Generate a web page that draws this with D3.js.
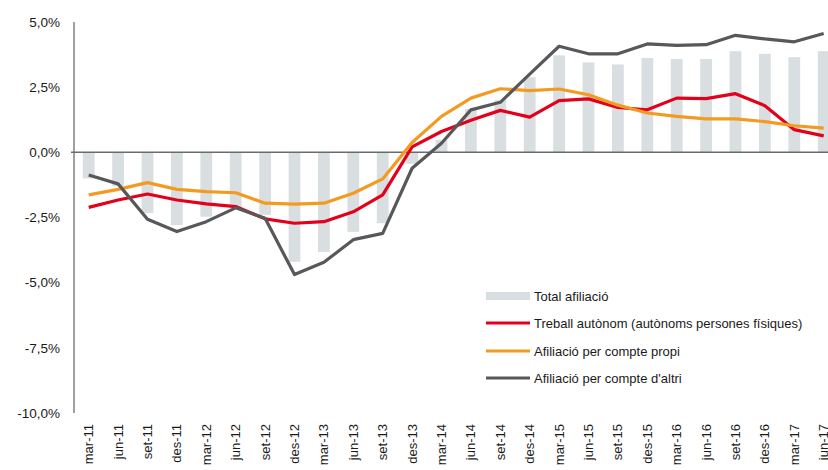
<!DOCTYPE html>
<html lang="en">
	<head>
		<meta charset="utf-8">
		<title>Afiliació</title>
		<script type="text/javascript" src="https://cdn.jsdelivr.net/npm/d3@7"></script>
		<style type="text/css">
body {
  margin: 0;
  background: #fff;
}
.tick_label {
  font-family: "Liberation Sans", Arial, sans-serif;
  font-size: 13px;
  fill: #1a1a1a;
}
.y_label {
  font-size: 13.5px;
}
.legend_labels {
  font-family: "Liberation Sans", Arial, sans-serif;
  font-size: 13px;
  fill: #1a1a1a;
}
		</style>
	</head>
	<body>
		<script type="text/javascript">

			var quarters = ["mar-11","jun-11","set-11","des-11","mar-12","jun-12","set-12","des-12",
				"mar-13","jun-13","set-13","des-13","mar-14","jun-14","set-14","des-14",
				"mar-15","jun-15","set-15","des-15","mar-16","jun-16","set-16","des-16",
				"mar-17","jun-17"];

			var total_afiliacio = [-1.0, -1.3, -2.33, -2.79, -2.47, -2.1, -2.4, -4.2,
				-3.82, -3.05, -2.72, -0.44, 0.48, 1.66, 2.0, 2.88,
				3.72, 3.45, 3.37, 3.62, 3.58, 3.58, 3.88, 3.78,
				3.65, 3.88];

			var treball_autonom = [-2.11, -1.83, -1.6, -1.83, -1.98, -2.08, -2.55, -2.72,
				-2.66, -2.28, -1.63, 0.21, 0.8, 1.23, 1.61, 1.35,
				1.98, 2.05, 1.72, 1.63, 2.08, 2.06, 2.25, 1.79,
				0.87, 0.63];

			var compte_propi = [-1.63, -1.42, -1.16, -1.42, -1.51, -1.55, -1.95, -1.99,
				-1.95, -1.57, -1.02, 0.38, 1.38, 2.08, 2.44, 2.37,
				2.43, 2.21, 1.81, 1.51, 1.38, 1.28, 1.28, 1.18,
				1.02, 0.93];

			var compte_altri = [-0.87, -1.21, -2.57, -3.04, -2.66, -2.13, -2.53, -4.69,
				-4.22, -3.35, -3.11, -0.61, 0.35, 1.63, 1.92, 3.0,
				4.07, 3.78, 3.78, 4.16, 4.1, 4.13, 4.49, 4.35,
				4.24, 4.56];

			var y_ticks = [5, 2.5, 0, -2.5, -5, -7.5, -10];

			var legend_keys = ["Total afiliació", "Treball autònom (autònoms persones físiques)",
				"Afiliació per compte propi", "Afiliació per compte d'altri"];

			var W = 828, H = 470;
			var colors = {bar: "#d9dee0", red: "#e3001b", orange: "#f39b20", grey: "#58585a"};

			var svg = d3.select("body")
				.append("svg")
					.attr("width", W)
					.attr("height", H);

			var xScale = d3.scaleBand()
				.domain(quarters)
				.range([74, 74 + 29.4 * quarters.length])
				.paddingInner(0.6)
				.paddingOuter(0.3);

			var yScale = d3.scaleLinear()
				.domain([-10, 5])
				.range([413, 22]);

			var cx = function(q) { return xScale(q) + xScale.bandwidth() / 2; };

			// bars
			svg.selectAll(".bar")
				.data(total_afiliacio)
				.enter()
				.append("rect")
					.attr("class", "bar")
					.attr("x", function(d, i) { return xScale(quarters[i]); })
					.attr("y", function(d) { return yScale(Math.max(0, d)); })
					.attr("width", xScale.bandwidth())
					.attr("height", function(d) { return Math.abs(yScale(d) - yScale(0)); })
					.style("fill", colors.bar);

			// y axis
			svg.append("line")
				.attr("x1", 74).attr("x2", 74)
				.attr("y1", yScale(5)).attr("y2", yScale(-10))
				.style("stroke", "#808080")
				.style("stroke-width", 1.5);

			svg.selectAll(".y_label")
				.data(y_ticks)
				.enter()
				.append("text")
					.attr("class", "tick_label y_label")
					.attr("x", 60)
					.attr("y", function(d) { return yScale(d); })
					.attr("dy", "0.35em")
					.attr("text-anchor", "end")
					.text(function(d) { return d3.format(".1f")(d).replace(".", ",").replace("−", "-") + "%"; });

			// zero line
			svg.append("line")
				.attr("x1", 71).attr("x2", W)
				.attr("y1", yScale(0)).attr("y2", yScale(0))
				.style("stroke", "#6b6b6b")
				.style("stroke-width", 1.5);

			// x labels
			svg.selectAll(".x_label")
				.data(quarters)
				.enter()
				.append("text")
					.attr("class", "tick_label")
					.attr("transform", function(d) { return "translate(" + cx(d) + ",424) rotate(-90)"; })
					.attr("dy", "0.35em")
					.attr("text-anchor", "end")
					.text(function(d) { return d; });

			var line = d3.line()
				.x(function(d, i) { return cx(quarters[i]); })
				.y(function(d) { return yScale(d); });

			var series = [
				{values: treball_autonom, color: colors.red},
				{values: compte_propi, color: colors.orange},
				{values: compte_altri, color: colors.grey}
			];

			svg.selectAll(".series")
				.data(series)
				.enter()
				.append("path")
					.attr("d", function(d) { return line(d.values); })
					.style("fill", "none")
					.style("stroke", function(d) { return d.color; })
					.style("stroke-width", 3.2)
					.style("stroke-linejoin", "round");

			// legend
			var legend_x = 486, legend_w = 44;
			var legend_y = [296, 323, 351, 378];
			var legend_colors = [colors.bar, colors.red, colors.orange, colors.grey];

			svg.append("rect")
				.attr("x", legend_x)
				.attr("y", legend_y[0] - 4)
				.attr("width", legend_w)
				.attr("height", 8)
				.style("fill", colors.bar);

			svg.selectAll(".legend_line")
				.data(legend_keys.slice(1))
				.enter()
				.append("line")
					.attr("x1", legend_x)
					.attr("x2", legend_x + legend_w)
					.attr("y1", function(d, i) { return legend_y[i + 1]; })
					.attr("y2", function(d, i) { return legend_y[i + 1]; })
					.style("stroke", function(d, i) { return legend_colors[i + 1]; })
					.style("stroke-width", 3.2);

			svg.selectAll(".legend_labels")
				.data(legend_keys)
				.enter()
				.append("text")
					.attr("class", "legend_labels")
					.attr("x", legend_x + legend_w + 4)
					.attr("y", function(d, i) { return legend_y[i]; })
					.attr("dy", "0.35em")
					.text(function(d) { return d; });
		</script>
	</body>
</html>
